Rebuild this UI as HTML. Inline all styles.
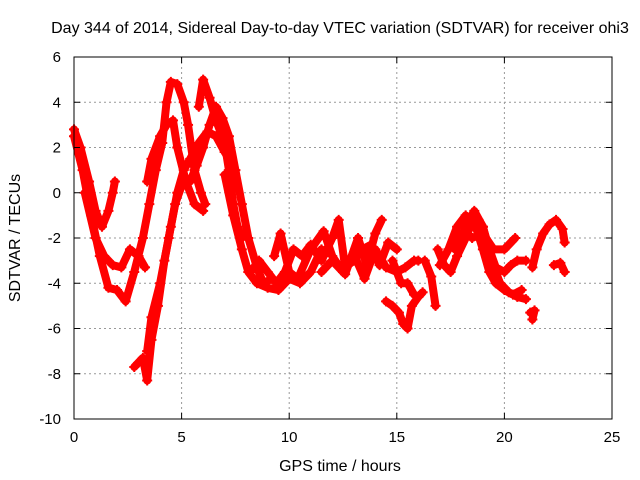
<!DOCTYPE html>
<html><head><meta charset="utf-8"><style>
body{margin:0;background:#fff}
svg{display:block;font-family:"Liberation Sans",sans-serif;font-size:15px}
</style></head><body>
<svg id="chart" width="640" height="480">
<g id="grid"></g>
<g id="series"></g>
<rect x="74" y="57" width="538" height="362" fill="none" stroke="#000"/>
<g id="ticks"></g>
<text x="340" y="33" text-anchor="middle" font-size="16">Day 344 of 2014, Sidereal Day-to-day VTEC variation (SDTVAR) for receiver ohi3</text>
<text x="340" y="471" text-anchor="middle" font-size="16">GPS time / hours</text>
<text transform="translate(20,238) rotate(-90)" text-anchor="middle" font-size="16">SDTVAR / TECUs</text>
</svg>
<script>
const xTicks=[0,5,10,15,20,25];
const yTicks=[6,4,2,0,-2,-4,-6,-8,-10];
const s1=[[0,2.8],[0.3,2],[0.7,0.5],[1,-0.8],[1.3,-1.5],[1.6,-0.8],[1.8,0],[1.9,0.5]];
const s2=[[0,2.5],[0.4,1],[0.8,-1],[1.2,-2.8],[1.6,-4.2],[2,-4.3],[2.4,-4.8],[2.8,-3.5],[3.2,-2],[3.5,-0.5],[3.8,1],[4.1,2.2],[4.3,4],[4.5,4.9],[4.8,4.8],[5.1,4],[5.3,3],[5.6,1],[5.9,0],[6.1,-0.5]];
const s3=[[0.5,0],[1,-2],[1.4,-2.8],[1.8,-3.2],[2.2,-3.3],[2.6,-2.5],[3,-2.8],[3.3,-3.3]];
const s4=[[2.8,-7.7],[3.2,-7.3],[3.4,-8.3],[3.6,-6.5],[3.9,-5],[4.2,-3],[4.5,-1.5],[4.8,0],[5.1,1],[5.4,1.5],[5.8,2.2],[6.2,2.7],[6.6,2.5],[7,1.8],[7.2,1.5]];
const s5=[[3.4,-7],[3.6,-5.5],[4,-4],[4.4,-2],[4.7,-0.5],[5,0.3],[5.4,0.5],[5.7,1.2],[6,2],[6.3,3],[6.6,3.8],[6.9,3.3],[7.2,2.5],[7.5,1],[7.8,-0.5],[8.1,-2],[8.5,-3.3],[8.8,-4],[9.2,-3.8]];
const s6=[[5.8,3.8],[6,5],[6.3,4.2],[6.6,3.2],[7,2.2],[7.2,1],[7.4,-0.5],[7.6,-1.5],[7.8,-2]];
const s7=[[3.4,0.5],[3.6,1.5],[4,2.5],[4.3,3],[4.6,3.2],[4.8,2],[5.2,0.5],[5.6,-0.5],[6,-0.8]];
const s8=[[7,0.8],[7.4,-1],[7.8,-2.5],[8.1,-3.5],[8.5,-4],[9,-4.2],[9.5,-4.3],[10,-3.8],[10.5,-4],[11,-3.5],[11.5,-2.5]];
const s9=[[8.2,-3.5],[8.6,-3],[9,-3.5],[9.4,-4],[9.8,-3.5],[10.2,-2.5],[10.6,-2.8],[11,-2.3],[11.5,-3],[12,-2],[12.3,-1.2],[12.6,-3.3],[13,-3],[13.4,-2.5],[13.8,-2.3],[14.2,-3.2],[14.6,-2.2],[15,-2.5]];
const s10=[[9.3,-2.8],[9.6,-1.8],[10,-3.5],[10.4,-3.8],[11,-2.5],[11.6,-1.7],[12,-2.8],[12.5,-3.5],[13,-2.7],[13.5,-3.8],[14,-2.5],[14.5,-3.3],[15,-3.5],[15.4,-3.3],[15.8,-3],[16,-3]];
const s11=[[11.5,-3.5],[12,-3],[12.6,-3.6],[13.2,-2],[13.6,-3.2],[14,-1.8],[14.3,-1.2]];
const s12=[[14.5,-4.8],[14.8,-5],[15.1,-5.3],[15.3,-5.8],[15.5,-6],[15.7,-5],[16,-4.6],[16.2,-4.4]];
const s13=[[14.8,-3],[15.2,-4],[15.5,-4],[15.8,-4.5]];
const s14=[[16.3,-3],[16.6,-3.7],[16.8,-5]];
const s15=[[16.9,-2.5],[17.2,-3.2],[17.5,-3.5],[17.8,-2.8],[18.2,-2],[18.5,-1.3],[18.8,-1.2],[19,-1.5],[19.3,-2.5],[19.6,-3.3],[20,-3.5],[20.3,-3.2],[20.6,-3],[21,-3]];
const s16=[[17,-3.2],[17.4,-2.5],[17.8,-1.5],[18.2,-1],[18.6,-1.3],[19,-2.5],[19.3,-3.5],[19.6,-4],[20,-4.3],[20.4,-4.5],[20.8,-4.3]];
const s17=[[17.7,-2.5],[18.2,-1.5],[18.6,-0.8],[19,-1.5],[19.4,-3],[19.8,-4],[20.2,-4.4],[20.6,-4.6],[21,-4.7]];
const s18=[[18.5,-2],[19,-1.8],[19.5,-2.5],[20,-2.5],[20.5,-2]];
const s19=[[21.2,-5.3],[21.4,-5.2],[21.3,-5.6]];
const s20=[[21.3,-3.3],[21.5,-2.5],[21.8,-1.8],[22.1,-1.4],[22.4,-1.2],[22.7,-1.6],[22.8,-2.2]];
const s21=[[22.3,-3.2],[22.6,-3.1],[22.8,-3.5]];
const allSeries=[s1,s2,s3,s4,s5,s6,s7,s8,s9,s10,s11,s12,s13,s14,s15,s16,s17,s18,s19,s20,s21];

const X0=74,X1=612,Y0=419,Y1=57;
const xs=v=>X0+(v-0)/(25-0)*(X1-X0);
const ys=v=>Y0-(v+10)/16*(Y0-Y1);
const NS="http://www.w3.org/2000/svg";
const mk=(t,a,p)=>{const e=document.createElementNS(NS,t);for(const k in a)e.setAttribute(k,a[k]);p.appendChild(e);return e;};
const grid=document.getElementById('grid'),ticks=document.getElementById('ticks'),ser=document.getElementById('series');
xTicks.forEach(t=>{const x=xs(t);
 if(t>0&&t<25){const g=mk('line',{x1:x,x2:x,y1:Y1,y2:Y0,stroke:'#999','stroke-dasharray':'2,3'},grid);
 }
 mk('line',{x1:x,x2:x,y1:Y0,y2:Y0-6,stroke:'#000'},ticks);mk('line',{x1:x,x2:x,y1:Y1,y2:Y1+6,stroke:'#000'},ticks);
 const l=mk('text',{x:x,y:Y0+23,'text-anchor':'middle'},ticks);l.textContent=t;
 });
yTicks.forEach(t=>{const y=ys(t);
 if(t>-10&&t<6){const g=mk('line',{x1:X0,x2:X1,y1:y,y2:y,stroke:'#999','stroke-dasharray':'2,3'},grid);
 }
 mk('line',{x1:X0,x2:X0+6,y1:y,y2:y,stroke:'#000'},ticks);mk('line',{x1:X1,x2:X1-6,y1:y,y2:y,stroke:'#000'},ticks);
 const l=mk('text',{x:X0-13,y:y+5,'text-anchor':'end'},ticks);l.textContent=t;
 });
allSeries.forEach((s,i)=>{
 const pl=mk('polyline',{points:s.map(p=>xs(p[0])+','+ys(p[1])).join(' '),fill:'none',stroke:'#f00','stroke-width':8,'stroke-linejoin':'round','stroke-linecap':'round'},ser);
 
 
 s.forEach(p=>{const x=xs(p[0]),y=ys(p[1]);
  const m=mk('path',{d:`M${x-5},${y}H${x+5}M${x},${y-5}V${y+5}`,stroke:'#f00','stroke-width':2},ser);
  
  });
});
</script>
</body></html>
